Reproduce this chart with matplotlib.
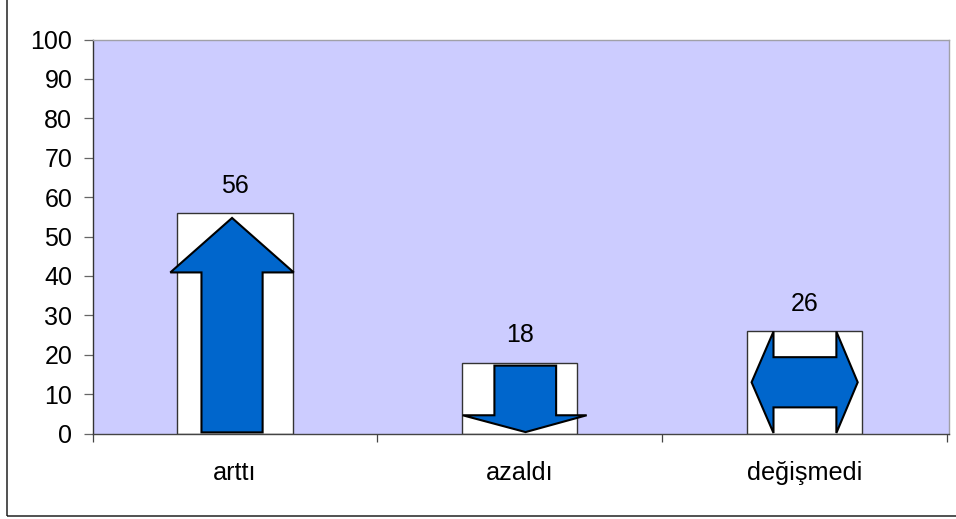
import matplotlib
matplotlib.use("Agg")
import matplotlib.pyplot as plt
from matplotlib.patches import Polygon, Rectangle
from matplotlib.ticker import MultipleLocator

categories = ["arttı", "azaldı", "değişmedi"]
values = [56, 18, 26]
y_ticks = list(range(0, 101, 10))

BAR_WIDTH = 0.405
# Arrow outlines, as (offset from bar centre in bar widths, fraction of bar height)
UP_ARROW = [(-0.29, 0.005), (-0.29, 0.73), (-0.56, 0.73), (-0.025, 0.977),
            (0.51, 0.73), (0.24, 0.73), (0.24, 0.005)]
DOWN_ARROW = [(-0.22, 0.957), (-0.22, 0.257), (-0.495, 0.257), (0.05, 0.02),
              (0.58, 0.257), (0.315, 0.257), (0.315, 0.957)]
BOTH_ARROW = [(-0.46, 0.5), (-0.27, 0.995), (-0.27, 0.745), (0.275, 0.745),
              (0.275, 0.995), (0.46, 0.5), (0.275, 0.005), (0.275, 0.255),
              (-0.27, 0.255), (-0.27, 0.005)]
shapes = [UP_ARROW, DOWN_ARROW, BOTH_ARROW]

W, H = 956, 519
plt.rcParams["font.family"] = ["Liberation Sans", "DejaVu Sans"]
fig = plt.figure(figsize=(W / 100, H / 100), dpi=100, facecolor="white")
# Chart frame: its top and right edges run off the canvas
fig.add_artist(Rectangle((6.5 / W, 1 - 516 / H), 960 / W, 530 / H, transform=fig.transFigure,
                         facecolor="none", edgecolor="#222222", linewidth=1.1))

ax = fig.add_axes([92.5 / W, 1 - 433.5 / H, 856 / W, 394 / H], facecolor="#CCCCFF")
positions = range(len(categories))
ax.bar(positions, values, width=BAR_WIDTH, color="white", edgecolor="#333333", linewidth=1.0, zorder=2)

for x, v, shape in zip(positions, values, shapes):
    pts = [(x + dx * BAR_WIDTH, fy * v) for dx, fy in shape]
    ax.add_patch(Polygon(pts, closed=True, facecolor="#0066CC", edgecolor="black",
                         linewidth=1.5, joinstyle="miter", zorder=3, clip_on=False))
    ax.text(x, v + 6.9, str(v), ha="center", va="center", fontsize=18, color="black")

ax.set_xlim(-0.5, 2.505)
ax.set_ylim(0, 100)
ax.set_yticks(y_ticks)
ax.xaxis.set_minor_locator(MultipleLocator(1, offset=0.5))
ax.set_xticks(list(positions))
ax.set_xticklabels(categories)
ax.tick_params(axis="x", which="major", length=0, pad=20, labelsize=18.2)
ax.tick_params(axis="x", which="minor", length=6, width=0.9, color="#444444", direction="out")
ax.tick_params(axis="y", length=6.5, width=0.9, color="#666666", pad=8, labelsize=18)

ax.spines["top"].set_color("#A0A0A8")
ax.spines["right"].set_color("#A0A0A8")
ax.spines["left"].set_color("#333333")
ax.spines["bottom"].set_color("#444444")
for spine in ax.spines.values():
    spine.set_linewidth(1.0)

fig.savefig("out.png", dpi=100)
